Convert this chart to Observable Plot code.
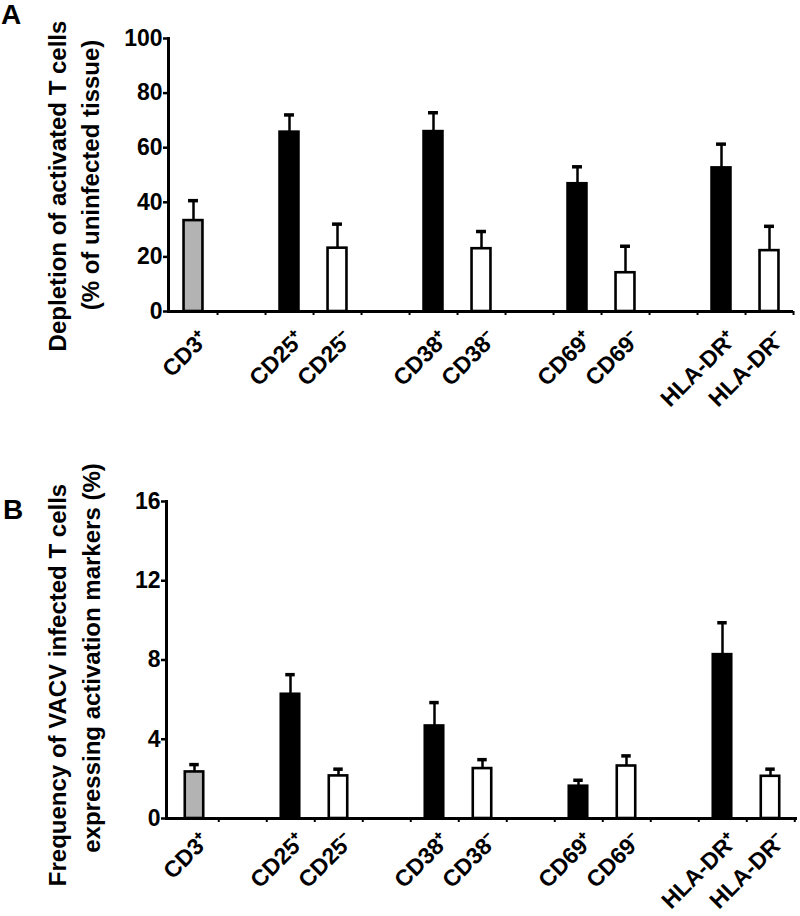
<!DOCTYPE html>
<html>
<head>
<meta charset="utf-8">
<script src="https://cdn.jsdelivr.net/npm/d3@7"></script>
<script src="https://cdn.jsdelivr.net/npm/@observablehq/plot@0.6"></script>
<style>
  body { margin: 0; background: #fff; }
  #wrap { position: relative; width: 800px; height: 916px; font-family: "Liberation Sans", Arial, sans-serif; }
  .panel-letter { position: absolute; font-weight: bold; font-size: 28px; line-height: 30px; color: #000; }
  svg { display: block; }
</style>
</head>
<body>
<div id="wrap">
  <div id="chartA"></div>
  <div id="chartB"></div>
  <div class="panel-letter" style="left:1px; top:0px;">A</div>
  <div class="panel-letter" style="left:3px; top:495px;">B</div>
</div>
<script>
// ---- data ----
const categories = ["CD3⁺", "CD25⁺", "CD25⁻", "CD38⁺", "CD38⁻", "CD69⁺", "CD69⁻", "HLA-DR⁺", "HLA-DR⁻"];
const markers    = ["CD3", "CD25", "CD25", "CD38", "CD38", "CD69", "CD69", "HLA-DR", "HLA-DR"];
const subsets    = ["all", "positive", "negative", "positive", "negative", "positive", "negative", "positive", "negative"];

// Panel A: depletion of activated T cells (% of uninfected tissue)
const depletionMean = [33.3, 65.7, 23.2, 65.9, 23.0, 46.8, 14.2, 52.6, 22.3];
const depletionSem  = [7.3, 6.3, 8.8, 6.9, 6.3, 6.2, 9.7, 8.7, 8.9];
const depletionTicks = [0, 20, 40, 60, 80, 100];

// Panel B: frequency of VACV infected T cells expressing activation markers (%)
const frequencyMean = [2.35, 6.27, 2.15, 4.67, 2.52, 1.63, 2.65, 8.27, 2.13];
const frequencySem  = [0.37, 0.99, 0.34, 1.18, 0.45, 0.30, 0.51, 1.61, 0.36];
const frequencyTicks = [0, 4, 8, 12, 16];

const subsetColors = {domain: ["all", "positive", "negative"], range: ["#b3b3b3", "#000000", "#ffffff"]};

// band domain: one empty slot between marker groups
const xDomain = [];
markers.forEach((m, i) => {
  if (i > 0 && m !== markers[i - 1]) xDomain.push("gap" + i);
  xDomain.push(categories[i]);
});

const LABEL_ANGLE = -45;

function panel({mean, sem, ticks, title1, title2, height, marginTop, marginBottom, marginLeft, marginRight, t1, t2, labelDy}) {
  const width = 800;
  const rows = categories.map((c, i) => ({cat: c, subset: subsets[i], mean: mean[i], upper: mean[i] + sem[i]}));
  const step = (width - marginLeft - marginRight) / xDomain.length;
  const barInset = (step - 19) / 2;
  const capInset = (step - 10) / 2;
  const font = {fontSize: 23, fontWeight: "bold"};
  return Plot.plot({
    width, height, marginTop, marginBottom, marginLeft, marginRight,
    style: {fontFamily: "'Liberation Sans', Arial, sans-serif", fontWeight: "bold", color: "#000", background: "#fff", overflow: "visible"},
    x: {domain: xDomain, padding: 0, axis: null},
    y: {domain: [0, ticks[ticks.length - 1]], axis: null},
    color: subsetColors,
    marks: [
      Plot.ruleX(rows, {x: "cat", y1: "mean", y2: "upper", stroke: "#000", strokeWidth: 2.5}),
      Plot.tickY(rows, {x: "cat", y: "upper", stroke: "#000", strokeWidth: 3.5, insetLeft: capInset, insetRight: capInset}),
      Plot.barY(rows, {x: "cat", y: "mean", fill: "subset", stroke: "#000", strokeWidth: 2.6, insetLeft: barInset, insetRight: barInset}),
      Plot.ruleY([0], {stroke: "#000", strokeWidth: 3}),
      Plot.frame({anchor: "left", stroke: "#000", strokeWidth: 3}),
      Plot.axisY({ticks, tickSize: 5, tickPadding: 1, strokeWidth: 2.5, label: null, ...font}),
      Plot.axisX({tickSize: 4, strokeWidth: 2, dx: step / 2, tickFormat: () => "", label: null}),
      Plot.text(rows, {x: "cat", text: "cat", frameAnchor: "bottom", rotate: LABEL_ANGLE,
        textAnchor: "end", lineAnchor: "top", dx: 5, dy: labelDy, ...font}),
      Plot.text([title1], {frameAnchor: "left", rotate: -90, textAnchor: "middle", lineAnchor: "middle",
        dx: t1[0], dy: t1[1], fontSize: 24, fontWeight: "bold"}),
      Plot.text([title2], {frameAnchor: "left", rotate: -90, textAnchor: "middle", lineAnchor: "middle",
        dx: t2[0], dy: t2[1], fontSize: 24, fontWeight: "bold"})
    ]
  });
}

document.getElementById("chartA").append(panel({
  mean: depletionMean, sem: depletionSem, ticks: depletionTicks,
  title1: "Depletion of activated T cells", title2: "(% of uninfected tissue)",
  height: 440, marginTop: 38, marginBottom: 129, marginLeft: 168, marginRight: 7,
  t1: [-110, 11], t2: [-77, 0], labelDy: 17
}));

document.getElementById("chartB").append(panel({
  mean: frequencyMean, sem: frequencySem, ticks: frequencyTicks,
  title1: "Frequency of VACV infected T cells", title2: "expressing activation markers (%)",
  height: 476, marginTop: 61, marginBottom: 98, marginLeft: 166, marginRight: 3,
  t1: [-108, 25], t2: [-74, -2], labelDy: 12
}));
</script>
</body>
</html>
